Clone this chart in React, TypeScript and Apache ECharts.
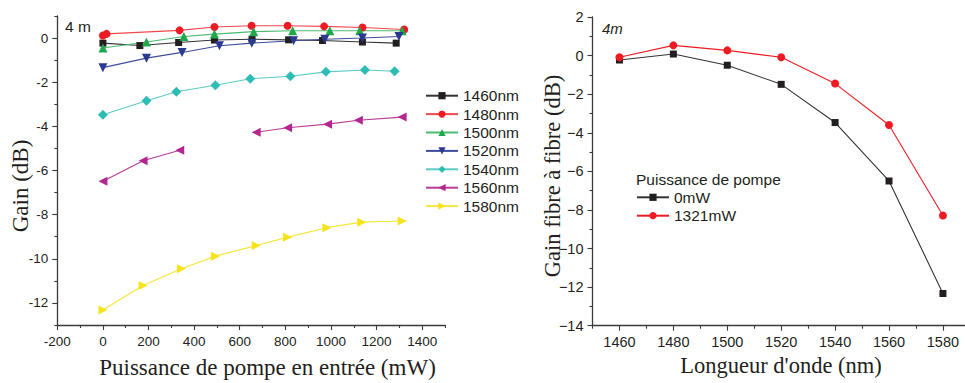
import React, { useEffect, useRef } from "react";
import * as echarts from "echarts";

// ---- Left chart: gain vs input pump power ----
const legendNames = ["1460nm", "1480nm", "1500nm", "1520nm", "1540nm", "1560nm", "1580nm"];
const pump1460 = [0, 162, 332, 489, 654, 814, 963, 1138, 1286];
const gain1460 = [-0.23, -0.34, -0.2, -0.09, -0.05, -0.08, -0.11, -0.18, -0.23];
const pump1480 = [0, 16, 336, 489, 652, 810, 970, 1138, 1321];
const gain1480 = [0.12, 0.19, 0.35, 0.5, 0.56, 0.56, 0.53, 0.48, 0.39];
const pump1500 = [0, 191, 355, 489, 661, 832, 995, 1126, 1312];
const gain1500 = [-0.45, -0.18, 0.07, 0.18, 0.29, 0.33, 0.33, 0.33, 0.33];
const pump1520 = [0, 191, 347, 511, 653, 836, 973, 1138, 1298];
const gain1520 = [-1.34, -0.91, -0.65, -0.35, -0.23, -0.12, -0.05, 0, 0.07];
const pump1540 = [0, 191, 322, 493, 646, 822, 978, 1149, 1279];
const gain1540 = [-3.47, -2.84, -2.43, -2.14, -1.84, -1.73, -1.53, -1.45, -1.5];
const pump1560 = [0, 176, 337, 500, 672, 810, 985, 1120, 1312];
const gain1560 = [-6.49, -5.56, -5.08, null, -4.27, -4.06, -3.9, -3.72, -3.58];
const pump1580 = [0, 176, 344, 494, 672, 810, 982, 1135, 1312];
const gain1580 = [-12.32, -11.21, -10.45, -9.88, -9.4, -9.02, -8.59, -8.34, -8.29];

const leftXMajor = [-200, 0, 200, 400, 600, 800, 1000, 1200, 1400];
const leftXMinor = [-100, 100, 300, 500, 700, 900, 1100, 1300, 1500];
const leftYMajor = [-12, -10, -8, -6, -4, -2, 0];
const leftYMinor = [-13, -11, -9, -7, -5, -3, -1, 1];

// ---- Right chart: fibre-to-fibre gain vs wavelength ----
const wavelengths = [1460, 1480, 1500, 1520, 1540, 1560, 1580];
const gain0mW = [-0.23, 0.08, -0.5, -1.49, -3.47, -6.5, -12.33];
const gain1321mW = [-0.09, 0.53, 0.27, -0.09, -1.45, -3.6, -8.29];
const rightLegend = ["0mW", "1321mW"];

const rightXMajor = [1460, 1480, 1500, 1520, 1540, 1560, 1580];
const rightXMinor = [1450, 1470, 1490, 1510, 1530, 1550, 1570];
const rightYMajor = [-14, -12, -10, -8, -6, -4, -2, 0, 2];
const rightYMinor = [-13, -11, -9, -7, -5, -3, -1, 1];

const SANS = "Liberation Sans";
const SERIF = "Liberation Serif";
const AXIS = "#3a3a3a";
const TEXT = "#231f20";

function mainAxis(gridIndex: number, position: string, min: number, max: number, ticks: number[], fontSize: number, margin: number, minusSign: string) {
  return {
    type: "value",
    gridIndex,
    position,
    min,
    max,
    axisLine: { show: true, onZero: false, lineStyle: { color: AXIS, width: 1.3 } },
    axisTick: { show: true, customValues: ticks, length: 5, lineStyle: { color: AXIS, width: 1.1 } },
    axisLabel: {
      show: true,
      customValues: ticks,
      fontSize,
      fontFamily: SANS,
      color: TEXT,
      margin,
      formatter: (v: number) => (v < 0 ? minusSign + String(-v) : String(v)),
    },
    splitLine: { show: false },
  };
}

function minorAxis(gridIndex: number, position: string, min: number, max: number, ticks: number[]) {
  return {
    type: "value",
    gridIndex,
    position,
    min,
    max,
    axisLine: { show: false, onZero: false },
    axisTick: { show: true, customValues: ticks, length: 3, lineStyle: { color: AXIS, width: 1.1 } },
    axisLabel: { show: false },
    splitLine: { show: false },
  };
}

function lineSeries(name: string, xs: number[], ys: (number | null)[], color: string, lineColor: string, symbol: string, rotate: number, size: number, axisIndex: number) {
  return {
    type: "line",
    name,
    xAxisIndex: axisIndex,
    yAxisIndex: axisIndex,
    data: xs.map((x, i) => [x, ys[i] == null ? "-" : ys[i]]),
    symbol,
    symbolRotate: rotate,
    symbolSize: size,
    showSymbol: true,
    connectNulls: false,
    itemStyle: { color, opacity: 1 },
    lineStyle: { color: lineColor, width: 1.1 },
    emphasis: { disabled: true },
  };
}

export default function App() {
  const ref = useRef<HTMLDivElement>(null);
  useEffect(() => {
    if (!ref.current) return;
    const chart = echarts.init(ref.current, null, { renderer: "svg" });
    const option = {
      animation: false,
      backgroundColor: "#ffffff",
      grid: [
        { left: 57.3, top: 16, width: 387.7, height: 309, outerBoundsMode: "none", containLabel: false },
        { left: 592.5, top: 17, width: 372, height: 308.7, outerBoundsMode: "none", containLabel: false },
      ],
      xAxis: [
        mainAxis(0, "bottom", -200, 1500, leftXMajor, 13.5, 9, "-"),
        minorAxis(0, "bottom", -200, 1500, leftXMinor),
        mainAxis(1, "bottom", 1450, 1588, rightXMajor, 14.5, 9, "-"),
        minorAxis(1, "bottom", 1450, 1588, rightXMinor),
      ],
      yAxis: [
        mainAxis(0, "left", -13, 1, leftYMajor, 13.5, 9, "-"),
        minorAxis(0, "left", -13, 1, leftYMinor),
        mainAxis(1, "left", -14, 2, rightYMajor, 14.5, 9, "\u2212"),
        minorAxis(1, "left", -14, 2, rightYMinor),
      ],
      legend: [
        {
          data: legendNames,
          orient: "vertical",
          left: 425,
          top: 86.5,
          padding: 0,
          itemGap: 0,
          itemWidth: 32,
          itemHeight: 9,
          textStyle: { fontSize: 15.5, lineHeight: 18.4, fontFamily: SANS, color: TEXT },
          selectedMode: false,
        },
        {
          data: rightLegend,
          orient: "vertical",
          left: 636,
          top: 188.1,
          padding: 0,
          itemGap: 0,
          itemWidth: 32,
          itemHeight: 9,
          textStyle: { fontSize: 15.5, lineHeight: 18.4, fontFamily: SANS, color: TEXT },
          selectedMode: false,
        },
      ],
      graphic: [
        { type: "text", x: 65, y: 26, style: { text: "4 m", fontSize: 15.5, fontFamily: SANS, fill: TEXT, align: "left", verticalAlign: "middle" } },
        { type: "text", x: 602, y: 28, style: { text: "4m", fontSize: 15, fontStyle: "italic", fontFamily: SANS, fill: TEXT, align: "left", verticalAlign: "middle" } },
        { type: "text", x: 636, y: 179.6, style: { text: "Puissance de pompe", fontSize: 15.5, fontFamily: SANS, fill: TEXT, align: "left", verticalAlign: "middle" } },
        { type: "text", x: 267.5, y: 367, style: { text: "Puissance de pompe en entrée (mW)", fontSize: 23, fontFamily: SERIF, fill: TEXT, align: "center", verticalAlign: "middle" } },
        { type: "text", x: 20, y: 186, rotation: Math.PI / 2, style: { text: "Gain (dB)", fontSize: 23, fontFamily: SERIF, fill: TEXT, align: "center", verticalAlign: "middle" } },
        { type: "text", x: 781, y: 365, style: { text: "Longueur d'onde (nm)", fontSize: 22.5, fontFamily: SERIF, fill: TEXT, align: "center", verticalAlign: "middle" } },
        { type: "text", x: 552.5, y: 176, rotation: Math.PI / 2, style: { text: "Gain fibre à fibre (dB)", fontSize: 22.5, fontFamily: SERIF, fill: TEXT, align: "center", verticalAlign: "middle" } },
      ],
      series: [
        lineSeries("1460nm", pump1460, gain1460, "#231f20", "#333333", "rect", 0, 7, 0),
        lineSeries("1480nm", pump1480, gain1480, "#ed1c24", "#f0484e", "circle", 0, 8, 0),
        lineSeries("1500nm", pump1500, gain1500, "#1fa84b", "#4dbb72", "triangle", 0, 9, 0),
        lineSeries("1520nm", pump1520, gain1520, "#2b3990", "#3f4c9c", "triangle", 180, 9, 0),
        lineSeries("1540nm", pump1540, gain1540, "#2ebdb4", "#5ccbc3", "diamond", 0, 10, 0),
        lineSeries("1560nm", pump1560, gain1560, "#b3268f", "#b83b97", "triangle", 90, 9, 0),
        lineSeries("1580nm", pump1580, gain1580, "#f5e41c", "#f5e63c", "triangle", -90, 9, 0),
        lineSeries("0mW", wavelengths, gain0mW, "#231f20", "#333333", "rect", 0, 7, 2),
        lineSeries("1321mW", wavelengths, gain1321mW, "#ed1c24", "#ed1c24", "circle", 0, 8, 2),
      ],
    };
    chart.setOption(option as any);
    return () => chart.dispose();
  }, []);
  return <div ref={ref} style={{ position: "absolute", left: 0, top: 0, width: 965, height: 383 }} />;
}
